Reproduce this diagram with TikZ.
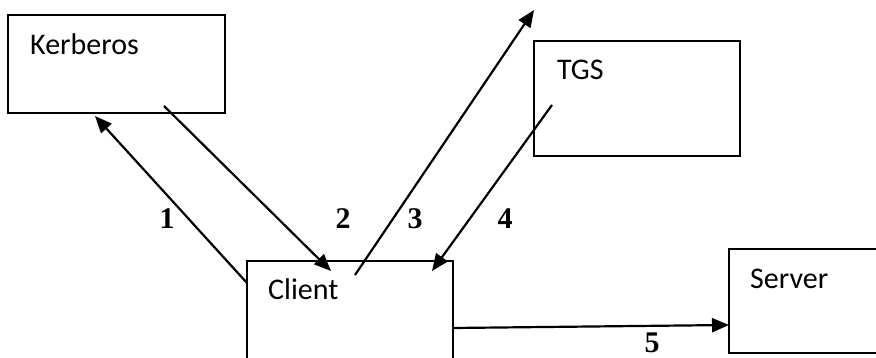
\documentclass[tikz,border=0pt]{standalone}
\usepackage{fontspec}
\setmainfont{Carlito}
\newfontfamily\numfont{Liberation Serif}
\usetikzlibrary{arrows.meta}
\begin{document}
\begin{tikzpicture}[x=1pt,y=-1pt,
  box/.style={draw,line width=2.2pt,inner sep=0pt},
  lbl/.style={anchor=base west,inner sep=0pt,font=\fontsize{30}{33}\selectfont},
  num/.style={inner sep=0pt,font=\numfont\bfseries\fontsize{30}{32}\selectfont},
  conn/.style={line width=2.2pt,-{Triangle[length=17pt,width=14pt]}}]
\useasboundingbox (0,0) rectangle (876,358);
\clip (0,0) rectangle (876,358);
% boxes
\draw[box] (8,15) rectangle (225,113);
\draw[box] (247,261) rectangle (453,370);
\draw[box] (534,41) rectangle (740,156);
\draw[box] (729,249) rectangle (890,353);
\node[lbl] (tk) at (30,55) {Kerberos};
\node[lbl] (tc) at (268,300) {Client};
\node[lbl] (tt) at (557,80) {TGS};
\node[lbl] (ts) at (750,288) {Server};
% connector ends
\coordinate (a1) at (247,283);
\coordinate (b1) at (95,116);
\coordinate (a2) at (164,106);
\coordinate (b2) at (331,271);
\coordinate (a3) at (355,275);
\coordinate (b3) at (534,10);
\coordinate (a4) at (552,105);
\coordinate (b4) at (432,271);
\coordinate (a5) at (453,328);
\coordinate (b5) at (729,325);
\draw[conn] (a1) -- (b1);
\draw[conn] (a2) -- (b2);
\draw[conn] (a3) -- (b3);
\draw[conn] (a4) -- (b4);
\draw[conn] (a5) -- (b5);
% labels
\node[num] (n1) at (167,219) {1};
\node[num] (n2) at (343,219) {2};
\node[num] (n3) at (415,219) {3};
\node[num] (n4) at (505,219) {4};
\node[num] (n5) at (652,343) {5};
\end{tikzpicture}
\end{document}
